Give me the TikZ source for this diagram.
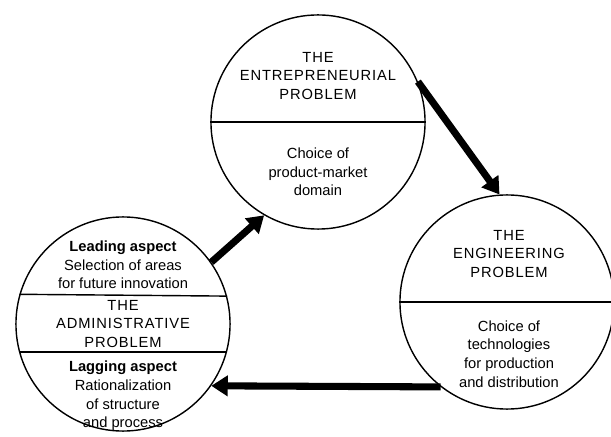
\documentclass[tikz,border=0pt]{standalone}
\usepackage{fontspec}
\setmainfont{Liberation Sans}
\usetikzlibrary{arrows.meta,positioning}

\newcommand{\Caps}{\addfontfeature{LetterSpace=6}}

\begin{document}
\begin{tikzpicture}[x=0.85pt,y=-0.85pt]
	\tikzstyle{Problem}	= [circle, draw, line width=1.2pt, minimum size=182pt, inner sep=0pt]
	\tikzstyle{Label}	= [align=center, inner sep=0pt, font=\fontsize{12.5}{15.9}\selectfont]
	\tikzstyle{Split}	= [line width=1.2pt]
	\tikzstyle{Flow}	= [line width=6pt, -{Triangle[length=14pt, width=17pt]}]
	
	\useasboundingbox (0,0) rectangle (611,437);
	
	% the three problems
	\node (ent) at (318,122) [Problem] {};
	\node (eng) at (507,302) [Problem] {};
	\node (adm) at (123,324) [Problem] {};
	
	\draw [Split] (ent.west) -- (ent.east);
	\draw [Split] (eng.west) -- (eng.east);
	\foreach \a/\b in {164.4/15.6, 195.6/-15.6}
		\draw [Split] (adm.\a) -- (adm.\b);
	
	\node (entTop) at (318,76) [Label] {\Caps THE\\\Caps ENTREPRENEURIAL\\\Caps PROBLEM};
	\node (entBot) at (318,172) [Label] {Choice of\\product-market\\domain};
	\node (engTop) at (509,254) [Label] {\Caps THE\\\Caps ENGINEERING\\\Caps PROBLEM};
	\node (engBot) at (509,354) [Label] {Choice of\\technologies\\for production\\and distribution};
	\node (admTop) at (123,265) [Label] {\textbf{Leading aspect}\\Selection of areas\\for future innovation};
	\node (admMid) at (123,324) [Label] {\Caps THE\\\Caps ADMINISTRATIVE\\\Caps PROBLEM};
	\node (admBot) at (123,396) [Label] {\textbf{Lagging aspect}\\Rationalization\\of structure\\and process};
	
	% the cycle
	\draw [Flow] (ent.22) -- (eng.94);
	\draw [Flow] (eng.232) -- (adm.-35);
	\draw [Flow] (adm.35) -- (ent.240);
\end{tikzpicture}
\end{document}
